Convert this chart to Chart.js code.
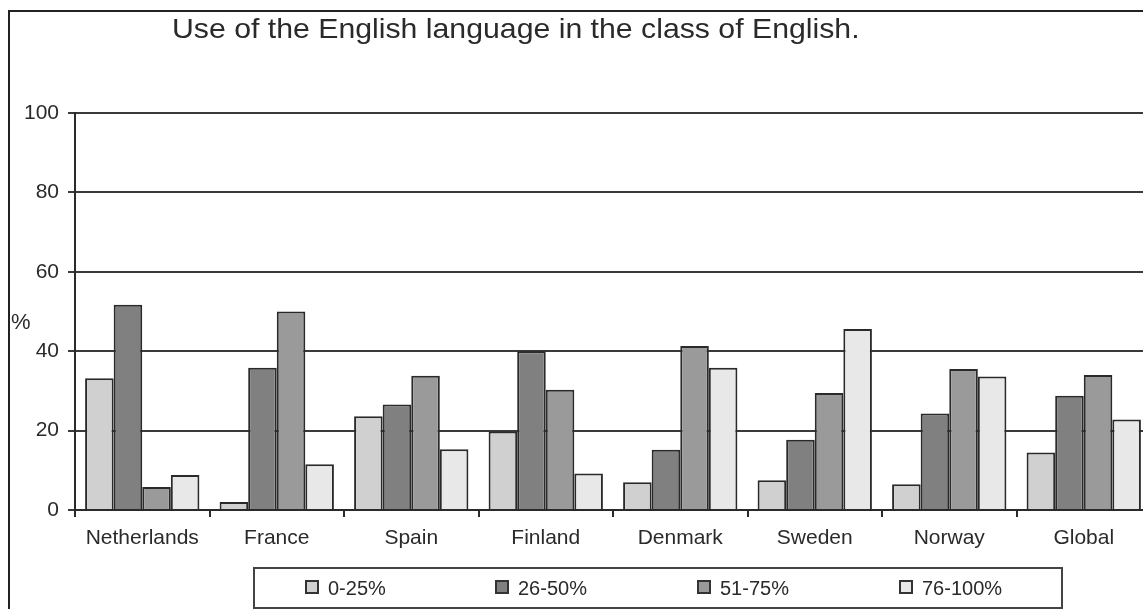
<!DOCTYPE html>
<html>
<head>
<meta charset="utf-8">
<script src="https://cdn.jsdelivr.net/npm/chart.js@4/dist/chart.umd.min.js"></script>
<style>
  html, body { margin: 0; padding: 0; background: #fff; }
  body { width: 1143px; height: 609px; overflow: hidden; position: relative; font-family: "Liberation Sans", Arial, sans-serif; color: #222; }
  #frame { position: absolute; left: 8px; top: 10px; width: 1200px; height: 700px; border-left: 2px solid #222; border-top: 2px solid #222; }
  #chart { position: absolute; left: 0; top: 0; }
  #title { position: absolute; left: 172px; top: 13px; font-size: 28px; white-space: nowrap; transform: scaleX(1.08); transform-origin: left top; color: #2a2a2a; }
  #ylabel { position: absolute; left: 11px; top: 309px; font-size: 22px; color: #2a2a2a; }
  #legend { position: absolute; left: 253px; top: 567px; width: 806px; height: 38px; border: 2px solid #444; }
  .item { position: absolute; top: 8px; font-size: 20px; white-space: nowrap; color: #2a2a2a; }
  .box { display: inline-block; width: 10px; height: 10px; border: 2px solid #333; margin-right: 9px; vertical-align: 1px; }
</style>
</head>
<body>
<div id="frame"></div>
<canvas id="chart" width="1151" height="609"></canvas>
<div id="title">Use of the English language in the class of English.</div>
<div id="ylabel">%</div>
<div id="legend"></div>
<script>
// Data
const countries = ['Netherlands', 'France', 'Spain', 'Finland', 'Denmark', 'Sweden', 'Norway', 'Global'];
const seriesLabels = ['0-25%', '26-50%', '51-75%', '76-100%'];
const share0to25 = [33.2, 2, 23.6, 19.8, 7, 7.5, 6.5, 14.5];
const share26to50 = [51.7, 35.8, 26.6, 40, 15.2, 17.7, 24.3, 28.8];
const share51to75 = [5.8, 50, 33.8, 30.3, 41.3, 29.5, 35.5, 34];
const share76to100 = [8.8, 11.5, 15.3, 9.2, 35.8, 45.6, 33.6, 22.8];
const yTicks = [0, 20, 40, 60, 80, 100];

const seriesValues = [share0to25, share26to50, share51to75, share76to100];
const seriesColors = ['#d0d0d0', '#808080', '#9a9a9a', '#e8e8e8'];

// Legend (HTML, boxed like the original)
const legendEl = document.getElementById('legend');
const legendLeft = [50, 240, 442, 644];
seriesLabels.forEach((label, i) => {
    const div = document.createElement('div');
    div.className = 'item';
    div.style.left = legendLeft[i] + 'px';
    div.innerHTML = `<span class="box" style="background:${seriesColors[i]}"></span>${label}`;
    legendEl.appendChild(div);
});

const datasets = seriesLabels.map((label, i) => ({
    label: label,
    data: seriesValues[i],
    backgroundColor: seriesColors[i],
    borderColor: '#2a2a2a',
    borderWidth: 2,
    barPercentage: 1,
    categoryPercentage: 0.85
}));

const ctx = document.getElementById('chart').getContext('2d');
new Chart(ctx, {
    type: 'bar',
    data: { labels: countries, datasets: datasets },
    options: {
        responsive: false,
        animation: false,
        layout: { padding: { top: 113, left: 0, right: 0, bottom: 0 } },
        plugins: {
            legend: { display: false },
            title: { display: false },
            tooltip: { enabled: false }
        },
        scales: {
            x: {
                grid: { drawOnChartArea: false, drawTicks: true, tickLength: 7, color: '#2a2a2a', lineWidth: 2 },
                border: { display: true, color: '#2a2a2a', width: 2 },
                ticks: { color: '#2a2a2a', font: { family: 'Liberation Sans', size: 21 }, padding: 9, maxRotation: 0 },
                afterFit: scale => { scale.height = 99; }
            },
            y: {
                min: 0,
                max: 100,
                afterBuildTicks: scale => { scale.ticks = yTicks.map(v => ({ value: v })); },
                grid: { color: '#3a3a3a', lineWidth: 2, tickLength: 7 },
                border: { display: true, color: '#2a2a2a', width: 2 },
                ticks: { color: '#2a2a2a', font: { family: 'Liberation Sans', size: 21 }, padding: 9 },
                afterFit: scale => { scale.width = 75; }
            }
        }
    }
});
</script>
</body>
</html>
